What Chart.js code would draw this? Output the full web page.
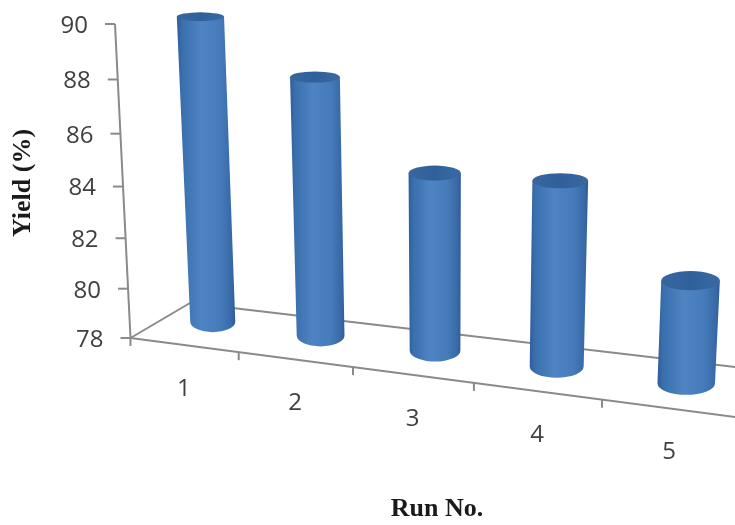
<!DOCTYPE html>
<html>
<head>
<meta charset="utf-8">
<title>Yield per run</title>
<script src="https://cdn.jsdelivr.net/npm/chart.js@4"></script>
<style>
  html, body { margin: 0; padding: 0; background: #fff; }
  canvas { display: block; }
</style>
</head>
<body>
<canvas id="yieldChart" width="735" height="525"></canvas>
<script>
const runLabels = ['1', '2', '3', '4', '5'];
const yieldValues = [89.9, 87.9, 84.7, 84.8, 81.7];
const yTickValues = [78, 80, 82, 84, 86, 88, 90];

// Perspective of the plot: unit square corners (bottom left, bottom right, top right, top left)
const frontPlane = [[130.5, 338], [738, 417.5], [772, 58], [115, 24]];
const barPlane = [[161, 315], [754, 392], [773, 40], [146, 11.5]];
const floorBack = [[190, 303], [770, 371]];

const AXIS_COLOR = '#8a8a8a';
const TEXT_COLOR = '#404040';
const TICK_FONT = '24px "Open Sans"';

function squareToQuad(q) {
    const [x0, y0] = q[0], [x1, y1] = q[1], [x2, y2] = q[2], [x3, y3] = q[3];
    const dx1 = x1 - x2, dx2 = x3 - x2, sx = x0 - x1 + x2 - x3;
    const dy1 = y1 - y2, dy2 = y3 - y2, sy = y0 - y1 + y2 - y3;
    const den = dx1 * dy2 - dx2 * dy1;
    const g = (sx * dy2 - dx2 * sy) / den;
    const h = (dx1 * sy - sx * dy1) / den;
    const a = x1 - x0 + g * x1, b = x3 - x0 + h * x3;
    const d = y1 - y0 + g * y1, e = y3 - y0 + h * y3;
    return (u, v) => {
        const w = g * u + h * v + 1;
        return [(a * u + b * v + x0) / w, (d * u + e * v + y0) / w];
    };
}

const toFront = squareToQuad(frontPlane);
const toBar = squareToQuad(barPlane);

function line(ctx, p, q) {
    ctx.beginPath();
    ctx.moveTo(p[0], p[1]);
    ctx.lineTo(q[0], q[1]);
    ctx.stroke();
}

function drawAxes(chart) {
    const { ctx, chartArea: a, scales } = chart;
    const vOf = value => (a.bottom - scales.y.getPixelForValue(value)) / a.height;
    const n = runLabels.length;

    ctx.save();
    ctx.strokeStyle = AXIS_COLOR;
    ctx.lineWidth = 2;
    line(ctx, toFront(0, 0), toFront(0, 1));
    line(ctx, toFront(0, 0), toFront(1, 0));
    line(ctx, toFront(0, 0), floorBack[0]);
    line(ctx, floorBack[0], floorBack[1]);

    // value ticks and labels
    ctx.font = TICK_FONT;
    ctx.fillStyle = TEXT_COLOR;
    ctx.textAlign = 'right';
    ctx.textBaseline = 'middle';
    scales.y.ticks.forEach(tick => {
        const p = toFront(0, vOf(tick.value));
        line(ctx, p, [p[0] - 10, p[1]]);
        ctx.fillText(String(tick.value), p[0] - 27, p[1] + 2);
    });

    // run ticks sit between categories, labels under the middle of each one
    for (let i = 0; i <= n; i++) {
        const p = toFront(i / n, 0);
        if (p[0] < 735) line(ctx, p, [p[0], p[1] + 8]);
    }
    ctx.textAlign = 'center';
    runLabels.forEach((label, i) => {
        const p = toFront((i + 0.5) / n, 0);
        ctx.fillText(label, p[0], p[1] + 44);
    });
    ctx.restore();
}

function drawCylinder(ctx, a, el) {
    const u = px => (px - a.left) / a.width;
    const v = py => (a.bottom - py) / a.height;
    // the value scale starts at 78, so every bar stands on the bottom of the plot
    const tl = toBar(u(el.x - el.width / 2), v(el.y));
    const tr = toBar(u(el.x + el.width / 2), v(el.y));
    const bl = toBar(u(el.x - el.width / 2), 0);
    const br = toBar(u(el.x + el.width / 2), 0);
    const top = { x: (tl[0] + tr[0]) / 2, y: (tl[1] + tr[1]) / 2, rx: (tr[0] - tl[0]) / 2 };
    const bot = { x: (bl[0] + br[0]) / 2, y: (bl[1] + br[1]) / 2, rx: (br[0] - bl[0]) / 2 };
    top.ry = 4 + top.y * 0.02;
    bot.ry = 4 + bot.y * 0.02;

    const left = Math.min(top.x - top.rx, bot.x - bot.rx);
    const right = Math.max(top.x + top.rx, bot.x + bot.rx);
    const side = ctx.createLinearGradient(left, 0, right, 0);
    side.addColorStop(0, '#2f5e9b');
    side.addColorStop(0.1, '#3b70ae');
    side.addColorStop(0.42, '#4e84c3');
    side.addColorStop(0.75, '#457bba');
    side.addColorStop(0.94, '#3868a6');
    side.addColorStop(1, '#2d5a96');

    ctx.save();
    ctx.filter = 'blur(0.7px)';
    ctx.fillStyle = side;
    ctx.beginPath();
    ctx.moveTo(top.x - top.rx, top.y);
    ctx.lineTo(bot.x - bot.rx, bot.y);
    ctx.ellipse(bot.x, bot.y, bot.rx, bot.ry, 0, Math.PI, 0, true);
    ctx.lineTo(top.x + top.rx, top.y);
    ctx.closePath();
    ctx.fill();

    const cap = ctx.createLinearGradient(top.x - top.rx, 0, top.x + top.rx, 0);
    cap.addColorStop(0, '#38679f');
    cap.addColorStop(0.5, '#30609a');
    cap.addColorStop(1, '#3a69a2');
    ctx.fillStyle = cap;
    ctx.beginPath();
    ctx.ellipse(top.x, top.y, top.rx, top.ry, 0, 0, Math.PI * 2);
    ctx.fill();
    ctx.restore();
}

// Bars come from the bar elements Chart.js lays out, redrawn through the perspective
const cylinderPlugin = {
    id: 'cylinders',
    beforeDatasetsDraw(chart) {
        drawAxes(chart);
    },
    beforeDatasetDraw(chart, args) {
        const els = chart.getDatasetMeta(args.index).data;
        els.forEach(el => drawCylinder(chart.ctx, chart.chartArea, el));
        return false;
    }
};

new Chart(document.getElementById('yieldChart'), {
    type: 'bar',
    data: {
        labels: runLabels,
        datasets: [{
            label: 'Yield (%)',
            data: yieldValues,
            backgroundColor: '#4f81bd',
            barPercentage: 0.43,
            categoryPercentage: 1
        }]
    },
    options: {
        responsive: false,
        animation: false,
        layout: { padding: { top: 24, left: 8, right: 0, bottom: 0 } },
        plugins: { legend: { display: false }, tooltip: { enabled: false } },
        scales: {
            x: {
                grid: { display: false },
                border: { display: false },
                ticks: { display: false },
                afterFit(scale) { scale.height = 183; },
                title: {
                    display: true,
                    text: 'Run No.',
                    color: '#1a1a1a',
                    font: { family: '"Liberation Serif"', size: 26, weight: 'bold' },
                    padding: { top: -6, bottom: 0 }
                }
            },
            y: {
                min: 78,
                max: 90,
                afterBuildTicks(scale) {
                    scale.ticks = yTickValues.map(value => ({ value }));
                },
                grid: { display: false },
                border: { display: false },
                ticks: { display: false },
                afterFit(scale) { scale.width = 131; },
                title: {
                    display: true,
                    text: 'Yield (%)',
                    color: '#1a1a1a',
                    font: { family: '"Liberation Serif"', size: 26, weight: 'bold' },
                    padding: { top: 0, bottom: 0 }
                }
            }
        }
    },
    plugins: [cylinderPlugin]
});
</script>
</body>
</html>
